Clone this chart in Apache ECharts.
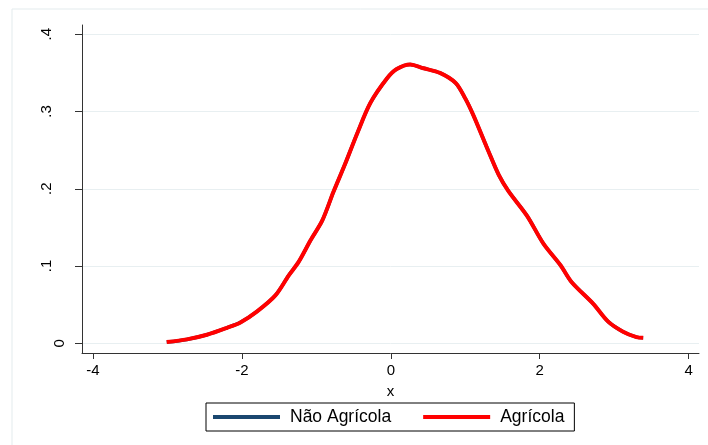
<!DOCTYPE html>
<html>
<head>
<meta charset="utf-8">
<script src="https://cdn.jsdelivr.net/npm/echarts@6/dist/echarts.min.js"></script>
<style>html,body{margin:0;padding:0;background:#fff}#c{width:708px;height:445px}</style>
</head>
<body>
<div id="c"></div>
<script>
const xValues = [-3.01,-2.74,-2.47,-2.20,-2.02,-1.80,-1.55,-1.37,-1.24,-1.08,-0.92,-0.77,-0.61,-0.45,-0.275,-0.05,0.08,0.26,0.44,0.66,0.87,1.00,1.11,1.31,1.45,1.58,1.83,2.05,2.28,2.43,2.72,2.92,3.12,3.30,3.39];
const naoAgricola = [0.0015,0.005,0.011,0.020,0.027,0.041,0.062,0.088,0.105,0.133,0.159,0.196,0.233,0.272,0.311,0.343,0.355,0.361,0.356,0.350,0.337,0.317,0.295,0.249,0.218,0.197,0.165,0.129,0.101,0.079,0.051,0.028,0.015,0.008,0.007];
const agricola = [0.0015,0.005,0.011,0.020,0.027,0.041,0.062,0.088,0.105,0.133,0.159,0.196,0.233,0.272,0.311,0.343,0.355,0.361,0.356,0.350,0.337,0.317,0.295,0.249,0.218,0.197,0.165,0.129,0.101,0.079,0.051,0.028,0.015,0.008,0.007];
const xTicks = [-4,-2,0,2,4];
const yTicks = [0,0.1,0.2,0.3,0.4];
const yTickLabels = ['0','.1','.2','.3','.4'];
const seriesNames = ['Não Agrícola','Agrícola'];

const chart = echarts.init(document.getElementById('c'));
const font = 'Liberation Sans, Arial, sans-serif';
chart.setOption({
  animation:false,
  backgroundColor:'#fff',
  graphic:[{type:'rect',shape:{x:12,y:9,width:760,height:500},style:{fill:'none',stroke:'#e3ebed',lineWidth:1},silent:true,z:-10}],
  grid:{left:82,right:9,top:25,bottom:92},
  legend:{
    left:206, top:403,
    data:seriesNames,
    icon:'rect', itemWidth:67, itemHeight:4, itemGap:32,
    borderColor:'#000', borderWidth:1, padding:[5,10,5,7],
    textStyle:{fontFamily:font,fontSize:17.5,color:'#000',padding:[0,0,0,5],lineHeight:18}
  },
  xAxis:{
    type:'value', min:-4.148, max:4.14,
    name:'x', nameLocation:'middle', nameGap:31,
    nameTextStyle:{fontFamily:font,fontSize:15,color:'#000'},
    axisLine:{onZero:false,lineStyle:{color:'#333',width:1}},
    axisTick:{show:true,length:6,customValues:xTicks,lineStyle:{color:'#333'}},
    axisLabel:{customValues:xTicks,margin:10,fontFamily:font,fontSize:15,color:'#000'},
    splitLine:{show:false}
  },
  yAxis:{
    type:'value', min:-0.0126, max:0.412,
    axisLine:{show:true,onZero:false,lineStyle:{color:'#333',width:1}},
    axisTick:{show:true,length:7,customValues:yTicks,lineStyle:{color:'#333'}},
    axisLabel:{customValues:yTicks,rotate:90,margin:15,fontFamily:font,fontSize:15,color:'#000',
      formatter:function(v){const i=yTicks.findIndex(t=>Math.abs(t-v)<1e-9);const s=i>=0?yTickLabels[i]:'';return v===0?'{z|'+s+'}':'{n|'+s+'}';},
      rich:{z:{fontFamily:font,fontSize:15,color:'#000'},n:{fontFamily:font,fontSize:15,color:'#000',padding:[0,0,13,0]}}
    },
    splitLine:{show:true,lineStyle:{color:'#e8eff1',width:1}}
  },
  series:[
    {name:seriesNames[0],type:'line',data:xValues.map((x,i)=>[x,naoAgricola[i]]),smooth:0.3,showSymbol:false,symbol:'none',
     lineStyle:{color:'#1a476f',width:3.5},itemStyle:{color:'#1a476f'},z:2},
    {name:seriesNames[1],type:'line',data:xValues.map((x,i)=>[x,agricola[i]]),smooth:0.3,showSymbol:false,symbol:'none',
     lineStyle:{color:'#ff0000',width:4},itemStyle:{color:'#ff0000'},z:3}
  ]
});
</script>
</body>
</html>
